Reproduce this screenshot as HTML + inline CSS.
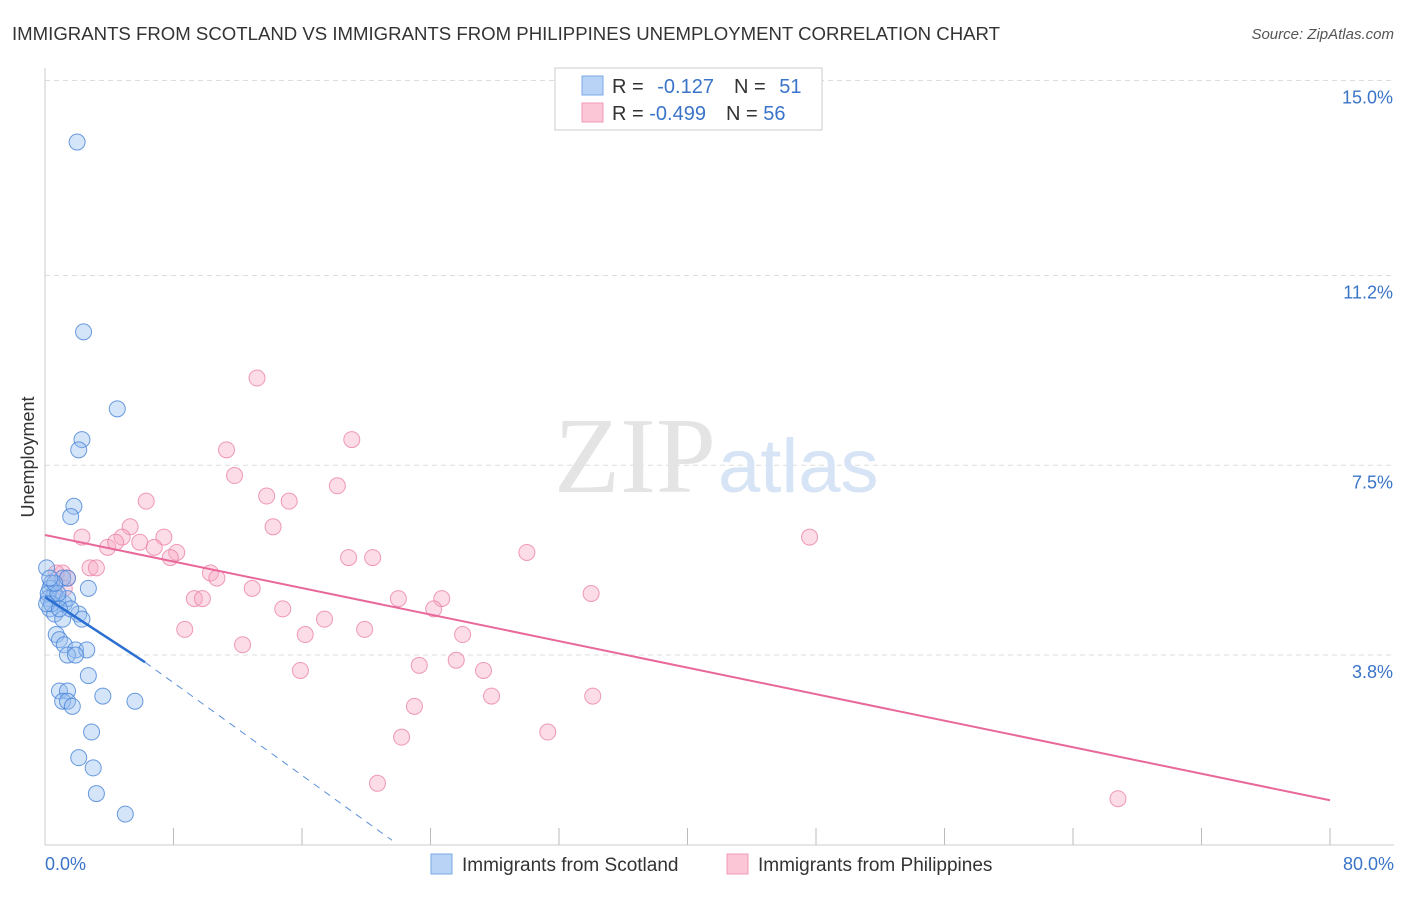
<!DOCTYPE html><html><head><meta charset="utf-8"><style>
body{margin:0;background:#fff;font-family:"Liberation Sans",sans-serif}
</style></head><body>
<svg width="1406" height="892" xmlns="http://www.w3.org/2000/svg">
<text x="12" y="40" font-size="18" fill="#333" textLength="988" lengthAdjust="spacingAndGlyphs">IMMIGRANTS FROM SCOTLAND VS IMMIGRANTS FROM PHILIPPINES UNEMPLOYMENT CORRELATION CHART</text>
<text x="1394" y="39" font-size="15" fill="#555" font-style="italic" text-anchor="end">Source: ZipAtlas.com</text>
<g id="grid"></g>
<text x="716" y="492" font-size="108" fill="#e4e4e4" font-family="Liberation Serif" text-anchor="end">ZIP</text>
<text x="718" y="492" font-size="76" fill="#d6e4f5">atlas</text>
<line x1="45" y1="68" x2="45" y2="845" stroke="#ccc"/>
<line x1="45" y1="845" x2="1394" y2="845" stroke="#ccc"/>
<text x="34" y="457" font-size="18" fill="#333" transform="rotate(-90 34 457)" text-anchor="middle">Unemployment</text>
<text x="45" y="870" font-size="18" fill="#3a74c9">0.0%</text>
<text x="1394" y="870" font-size="18" fill="#3a74c9" text-anchor="end">80.0%</text>
<g id="pts"></g>
<g id="lines"></g>
<g>
<rect x="555" y="68" width="267" height="62" fill="#fff" stroke="#ccc"/>
<rect x="582" y="76" width="21" height="19" fill="#b8d3f5" stroke="#7aa7e4"/>
<rect x="582" y="103" width="21" height="19" fill="#fbc6d6" stroke="#f09ab5"/>
<text x="612" y="93" font-size="20" fill="#333">R = <tspan fill="#3a74c9" dx="8">-0.127</tspan><tspan dx="20" fill="#333">N = </tspan><tspan fill="#3a74c9" dx="8">51</tspan></text>
<text x="612" y="120" font-size="20" fill="#333">R = <tspan fill="#3a74c9">-0.499</tspan><tspan dx="20" fill="#333">N = </tspan><tspan fill="#3a74c9">56</tspan></text>
</g>
<g><rect x="431" y="854" width="21" height="20" fill="#b8d3f5" stroke="#7aa7e4"/><text x="462" y="871" font-size="19" fill="#333">Immigrants from Scotland</text></g>
<g><rect x="727" y="854" width="21" height="20" fill="#fbc6d6" stroke="#f09ab5"/><text x="758" y="871" font-size="19" fill="#333">Immigrants from Philippines</text></g>
</svg>
<script>
const yTicks=[15.0,11.2,7.5,3.8];
const yTickLabels=["15.0%","11.2%","7.5%","3.8%"];
const xTicks=[0,8,16,24,32,40,48,56,64,72,80];
const scotX=[2.0,2.4,4.5,2.3,2.1,1.8,1.6,0.1,0.4,1.1,1.4,0.3,0.6,0.2,0.8,1.2,1.4,2.7,0.3,0.6,1.1,2.1,2.3,0.7,0.9,1.2,1.9,2.6,1.4,1.9,2.7,0.9,1.4,1.1,1.4,1.7,3.6,5.6,2.9,2.1,3.0,3.2,5.0,0.2,0.4,0.8,0.1,0.6,1.6,0.9,0.3];
const scotY=[13.8,10.1,8.6,8.0,7.8,6.7,6.5,5.5,5.2,5.3,5.3,5.1,5.0,4.9,4.9,4.8,4.9,5.1,4.7,4.6,4.5,4.6,4.5,4.2,4.1,4.0,3.9,3.9,3.8,3.8,3.4,3.1,3.1,2.9,2.9,2.8,3.0,2.9,2.3,1.8,1.6,1.1,0.7,5.0,4.8,5.0,4.8,5.2,4.7,4.7,5.3];
const phX=[13.2,19.1,11.3,11.8,18.2,13.8,15.2,6.3,5.3,14.2,2.3,4.8,3.9,4.4,5.9,7.4,6.8,8.2,7.8,47.6,30.0,18.9,20.4,2.8,3.2,1.1,1.4,0.7,10.3,10.7,12.9,34.0,9.3,9.8,22.0,24.7,24.2,14.8,17.4,8.7,16.2,19.9,26.0,12.3,23.3,25.6,15.9,27.3,27.8,34.1,23.0,31.3,22.2,20.7,66.8,1.2];
const phY=[9.2,8.0,7.8,7.3,7.1,6.9,6.8,6.8,6.3,6.3,6.1,6.1,5.9,6.0,6.0,6.1,5.9,5.8,5.7,6.1,5.8,5.7,5.7,5.5,5.5,5.4,5.3,5.4,5.4,5.3,5.1,5.0,4.9,4.9,4.9,4.9,4.7,4.7,4.5,4.3,4.2,4.3,4.2,4.0,3.6,3.7,3.5,3.5,3.0,3.0,2.8,2.3,2.2,1.3,1.0,5.1];
const scotTrend=[[0,4.93],[6.23,3.66]],scotDash=[[6.23,3.66],[21.6,0.19]];
const phTrend=[[0,6.14],[80,0.97]];
const sx=v=>45+v/80*1285, sy=v=>850-v*51.3;
const NS="http://www.w3.org/2000/svg";
function mk(t,a,p){const e=document.createElementNS(NS,t);for(const k in a)e.setAttribute(k,a[k]);p.appendChild(e);return e;}
const g=document.getElementById('grid');
yTicks.forEach((v,i)=>{
 const l=mk('line',{x1:45,x2:1394,y1:sy(v),y2:sy(v),stroke:'#ddd','stroke-dasharray':'5,4'},g);
 
 
 const t=mk('text',{x:1393,y:sy(v)+23,'font-size':18,fill:'#3a74c9','text-anchor':'end'},g);
 t.textContent=yTickLabels[i];
 
 
});
xTicks.forEach(v=>{
 const l=mk('line',{x1:sx(v),x2:sx(v),y1:828,y2:845,stroke:'#bbb'},g);
 
 
});
const pg=document.getElementById('pts');
phX.forEach((x,i)=>{
 const c=mk('circle',{cx:sx(x),cy:sy(phY[i]),r:8,fill:'rgba(248,170,195,0.4)',stroke:'rgba(235,130,165,0.8)','stroke-width':1},pg);
 
 
});
scotX.forEach((x,i)=>{
 const c=mk('circle',{cx:sx(x),cy:sy(scotY[i]),r:8,fill:'rgba(150,190,240,0.4)',stroke:'rgba(70,130,215,0.8)','stroke-width':1},pg);
 
 
});
const lg=document.getElementById('lines');
function ln(p,st,n){const l=mk('line',Object.assign({x1:sx(p[0][0]),y1:sy(p[0][1]),x2:sx(p[1][0]),y2:sy(p[1][1])},st),lg);
 
 }
ln(phTrend,{stroke:'#e8689a','stroke-width':2},'philippines-trend-line');
ln(scotTrend,{stroke:'#2a6fd1','stroke-width':2.5},'scotland-trend-line');
ln(scotDash,{stroke:'#5a8fd8','stroke-width':1,'stroke-dasharray':'7,6'},'scotland-trend-extension');
</script>
</body></html>
